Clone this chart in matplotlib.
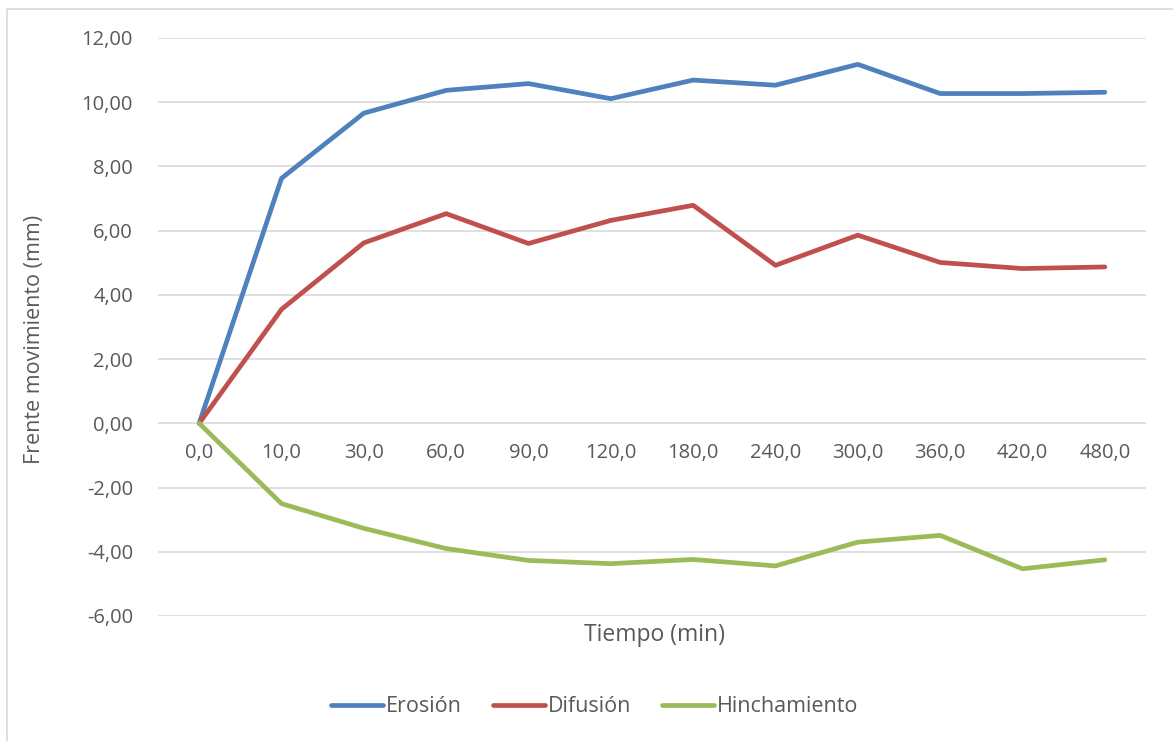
import matplotlib.pyplot as plt
import matplotlib
from matplotlib.patches import Rectangle

# fuente parecida a Calibri
matplotlib.rcParams['font.family'] = ['Open Sans', 'DejaVu Sans']

# datos
tiempos = ["0,0", "10,0", "30,0", "60,0", "90,0", "120,0", "180,0",
           "240,0", "300,0", "360,0", "420,0", "480,0"]
erosion = [0.00, 7.63, 9.66, 10.37, 10.58, 10.11, 10.69, 10.53, 11.18, 10.27, 10.27, 10.31]
difusion = [0.00, 3.55, 5.62, 6.53, 5.60, 6.32, 6.79, 4.92, 5.86, 5.01, 4.82, 4.87]
hinchamiento = [0.00, -2.50, -3.27, -3.90, -4.27, -4.37, -4.24, -4.44, -3.70, -3.49, -4.53, -4.25]
yticks = [-6, -4, -2, 0, 2, 4, 6, 8, 10, 12]

gris = '#595959'

fig = plt.figure(figsize=(11.73, 7.41), dpi=100)
# marco del area del grafico
fig.patches.append(Rectangle((7 / 1173, -0.05), 1.1, (741 - 9) / 741 + 0.05,
                             transform=fig.transFigure, fill=False,
                             edgecolor='#D9D9D9', linewidth=1.2))

ax = fig.add_axes([158 / 1173, 125 / 741, 988 / 1173, 578 / 741])
x = range(len(tiempos))
ax.plot(x, erosion, color='#4F81BD', linewidth=3.4, label='Erosión', solid_capstyle='round')
ax.plot(x, difusion, color='#C0504D', linewidth=3.4, label='Difusión', solid_capstyle='round')
ax.plot(x, hinchamiento, color='#9BBB59', linewidth=3.4, label='Hinchamiento', solid_capstyle='round')

ax.set_xlim(-0.5, len(tiempos) - 0.5)
ax.set_ylim(-6, 12)
ax.set_yticks(yticks)
ax.set_yticklabels([('%.2f' % v).replace('.', ',') for v in yticks])
ax.set_xticks(list(x))
ax.set_xticklabels(tiempos)

# eje x cruzando en cero como en Excel
ax.spines['bottom'].set_position(('data', 0))
for s in ax.spines.values():
    s.set_visible(False)
ax.tick_params(axis='x', length=0, pad=14, labelsize=14.5, labelcolor=gris)
ax.tick_params(axis='y', length=0, pad=18, labelsize=14.5, labelcolor=gris)
ax.grid(axis='y', color='#D9D9D9', linewidth=1.2)
ax.set_axisbelow(True)

fig.text(655 / 1173, 1 - 635 / 741, 'Tiempo (min)', ha='center', va='center',
         fontsize=16.5, color=gris)
fig.text(35 / 1173, 1 - 339 / 741, 'Frente movimiento (mm)', ha='center', va='center',
         rotation=90, fontsize=15.5, color=gris)

fig.legend(loc='center', bbox_to_anchor=(595 / 1173, 1 - 707 / 741), ncol=3,
           frameon=False, fontsize=15.5, handlelength=2.4, handletextpad=0.14,
           columnspacing=1.45, labelcolor=gris)

plt.savefig('out.png', dpi=100)
